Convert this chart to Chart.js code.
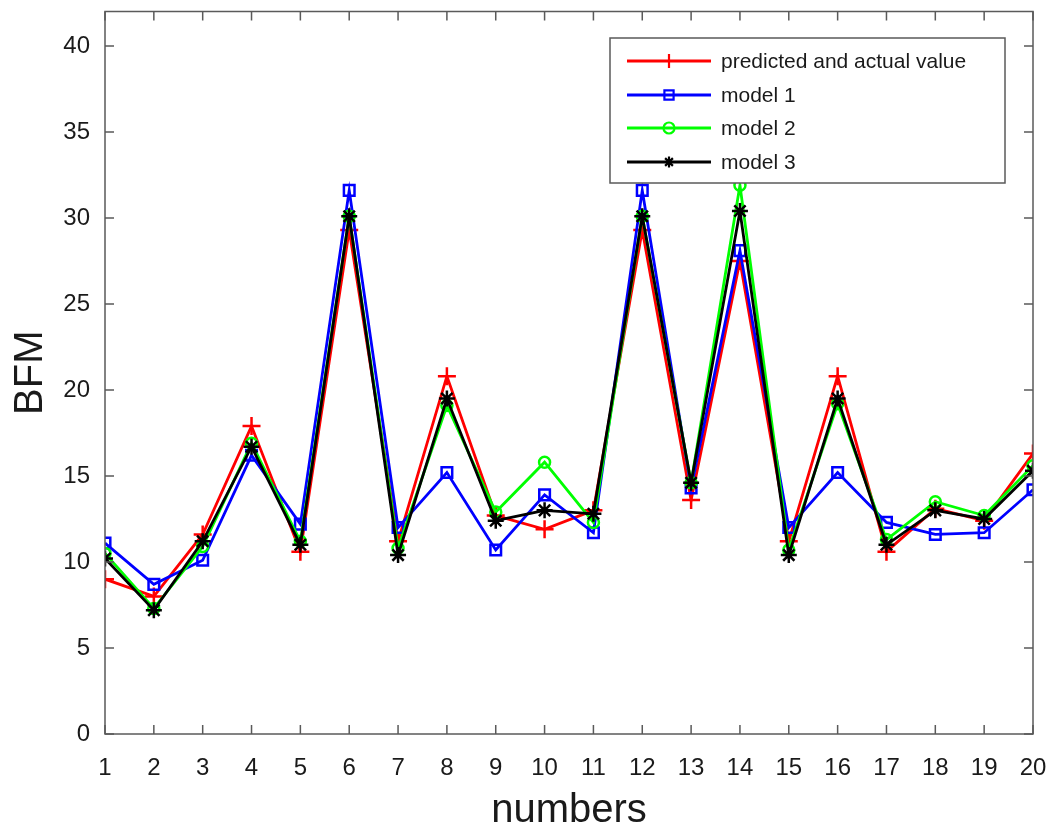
<!DOCTYPE html>
<html>
<head>
<meta charset="utf-8">
<script src="https://cdn.jsdelivr.net/npm/chart.js@4.4.1/dist/chart.umd.min.js"></script>
<style>
  html, body { margin: 0; padding: 0; background: #fff; }
  #wrap { width: 1061px; height: 831px; }
</style>
</head>
<body>
<div id="wrap"><canvas id="bfmChart" width="1061" height="831"></canvas></div>
<script>
// valores
const numbers = [1, 2, 3, 4, 5, 6, 7, 8, 9, 10, 11, 12, 13, 14, 15, 16, 17, 18, 19, 20];
const predictedActual = [9.0, 8.0, 11.6, 17.9, 10.6, 29.3, 11.2, 20.8, 12.7, 11.9, 13.0, 29.3, 13.6, 27.5, 11.2, 20.8, 10.6, 13.1, 12.4, 16.3];
const model1 = [11.1, 8.7, 10.1, 16.2, 12.2, 31.6, 12.0, 15.2, 10.7, 13.9, 11.7, 31.6, 14.3, 28.1, 12.0, 15.2, 12.3, 11.6, 11.7, 14.2];
const model2 = [10.5, 7.3, 10.9, 16.9, 11.2, 30.1, 10.8, 19.1, 12.9, 15.8, 12.3, 30.1, 14.6, 31.9, 10.7, 19.2, 11.3, 13.5, 12.7, 15.6];
const model3 = [10.2, 7.2, 11.2, 16.7, 11.0, 30.1, 10.4, 19.5, 12.4, 13.0, 12.8, 30.1, 14.6, 30.4, 10.4, 19.5, 11.0, 13.0, 12.5, 15.3];
const yTicks = [0, 5, 10, 15, 20, 25, 30, 35, 40];

const FONT = "'Liberation Sans', Arial, sans-serif";

function toPoints(values) {
    return numbers.map((n, i) => ({ x: n, y: values[i] }));
}

// desenha um marcador simples (usado na legenda)
function drawMarker(ctx, style, x, y, r) {
    ctx.beginPath();
    if (style === 'cross') {
        ctx.moveTo(x - r, y); ctx.lineTo(x + r, y);
        ctx.moveTo(x, y - r); ctx.lineTo(x, y + r);
    } else if (style === 'rect') {
        const s = r * Math.SQRT1_2;
        ctx.rect(x - s, y - s, 2 * s, 2 * s);
    } else if (style === 'circle') {
        ctx.arc(x, y, r, 0, Math.PI * 2);
    } else if (style === 'star') {
        for (let k = 0; k < 4; k++) {
            const a = k * Math.PI / 4;
            ctx.moveTo(x - r * Math.cos(a), y - r * Math.sin(a));
            ctx.lineTo(x + r * Math.cos(a), y + r * Math.sin(a));
        }
    }
    ctx.stroke();
}

const datasets = [
    { label: 'predicted and actual value', data: toPoints(predictedActual), borderColor: '#ff0000', pointStyle: 'cross', pointRadius: 9, order: 3 },
    { label: 'model 1', data: toPoints(model1), borderColor: '#0000ff', pointStyle: 'rect', pointRadius: 7.5, order: 2 },
    { label: 'model 2', data: toPoints(model2), borderColor: '#00ff00', pointStyle: 'circle', pointRadius: 5.5, order: 1 },
    { label: 'model 3', data: toPoints(model3), borderColor: '#000000', pointStyle: 'star', pointRadius: 8, order: 0 }
].map(d => Object.assign(d, {
    backgroundColor: 'rgba(0,0,0,0)',
    pointBackgroundColor: 'rgba(0,0,0,0)',
    pointBorderColor: d.borderColor,
    pointBorderWidth: 2.5,
    borderWidth: 2.8,
    tension: 0
}));

// moldura, ticks para dentro e legenda no estilo do original
const framePlugin = {
    id: 'framePlugin',
    afterDraw(chart) {
        const { ctx, chartArea: a, scales } = chart;
        ctx.save();
        ctx.strokeStyle = '#5a5a5a';
        ctx.lineWidth = 1.5;
        ctx.strokeRect(a.left, a.top, a.right - a.left, a.bottom - a.top);
        ctx.beginPath();
        const tl = 9;
        numbers.forEach(n => {
            const px = scales.x.getPixelForValue(n);
            ctx.moveTo(px, a.bottom); ctx.lineTo(px, a.bottom - tl);
            ctx.moveTo(px, a.top); ctx.lineTo(px, a.top + tl);
        });
        yTicks.forEach(v => {
            const py = scales.y.getPixelForValue(v);
            ctx.moveTo(a.left, py); ctx.lineTo(a.left + tl, py);
            ctx.moveTo(a.right, py); ctx.lineTo(a.right - tl, py);
        });
        ctx.stroke();

        // legenda
        const box = { x: 610, y: 38, w: 395, h: 145 };
        ctx.fillStyle = '#fff';
        ctx.fillRect(box.x, box.y, box.w, box.h);
        ctx.strokeStyle = '#5a5a5a';
        ctx.lineWidth = 1.5;
        ctx.strokeRect(box.x, box.y, box.w, box.h);
        const rowsY = [61, 95, 128, 162];
        ctx.font = '21px ' + FONT;
        ctx.textBaseline = 'middle';
        ctx.textAlign = 'left';
        datasets.forEach((d, i) => {
            const y = rowsY[i];
            ctx.strokeStyle = d.borderColor;
            ctx.lineWidth = 2.8;
            ctx.beginPath();
            ctx.moveTo(627, y); ctx.lineTo(711, y);
            ctx.stroke();
            ctx.lineWidth = 2.2;
            const r = d.pointStyle === 'cross' ? 7 : (d.pointStyle === 'rect' ? 6.5 : 5.5);
            drawMarker(ctx, d.pointStyle, 669, y, r);
            ctx.fillStyle = '#1a1a1a';
            ctx.fillText(d.label, 721, y + 1);
        });
        ctx.restore();
    }
};

new Chart(document.getElementById('bfmChart'), {
    type: 'line',
    data: { datasets: datasets },
    options: {
        responsive: false,
        animation: false,
        layout: { padding: { top: 10, right: 28, bottom: 0, left: 0 } },
        plugins: {
            legend: { display: false },
            tooltip: { enabled: false }
        },
        scales: {
            x: {
                type: 'linear',
                min: 1,
                max: 20,
                afterFit(scale) { scale.height = 97; scale.paddingLeft = 0; scale.paddingRight = 0; },
                afterBuildTicks(scale) { scale.ticks = numbers.map(v => ({ value: v })); },
                grid: { display: false, drawTicks: false },
                border: { display: false },
                ticks: { font: { size: 24, family: FONT }, color: '#1a1a1a', padding: 20, maxRotation: 0, autoSkip: false },
                title: { display: true, text: 'numbers', font: { size: 40, family: FONT, lineHeight: 1 }, color: '#1a1a1a', padding: 0 }
            },
            y: {
                min: 0,
                max: 42,
                afterFit(scale) { scale.width = 105; scale.paddingTop = 0; scale.paddingBottom = 0; },
                afterBuildTicks(scale) { scale.ticks = yTicks.map(v => ({ value: v })); },
                grid: { display: false, drawTicks: false },
                border: { display: false },
                ticks: { font: { size: 24, family: FONT }, color: '#1a1a1a', padding: 15 },
                title: { display: true, text: 'BFM', font: { size: 40, family: FONT, lineHeight: 1 }, color: '#1a1a1a', padding: { top: 11, bottom: 0 } }
            }
        }
    },
    plugins: [framePlugin]
});
</script>
</body>
</html>
